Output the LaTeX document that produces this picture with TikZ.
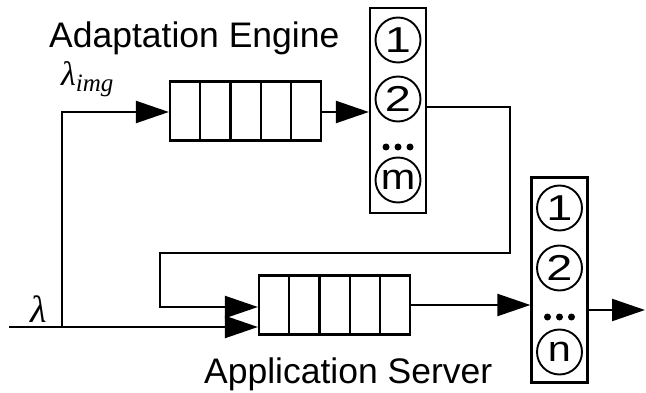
\documentclass[tikz,border=0pt]{standalone}
\usepackage{fontspec}
\setmainfont{Liberation Sans}
\newfontfamily\lamfont{Liberation Serif}
\usetikzlibrary{arrows.meta}

\tikzset{
  wire/.style={line width=2pt},
  flow/.style={line width=2.2pt, -{Triangle[length=33pt,width=22pt]}},
  queue/.style={draw, line width=2.2pt, minimum width=151pt, minimum height=59pt,
    inner sep=0pt,
    path picture={\foreach \k in {1,...,4}
      \draw[line width=2.2pt]
        ([xshift=\k*30.2pt]path picture bounding box.south west) --
        ([xshift=\k*30.2pt]path picture bounding box.north west);}},
  serverbox/.style={draw, line width=2.2pt, minimum width=56pt, minimum height=205pt,
    inner sep=0pt},
  srv/.style={draw, circle, line width=1.9pt, minimum size=45pt, inner sep=0pt,
    font=\fontsize{36}{36}\selectfont},
  dot/.style={fill, circle, minimum size=7pt, inner sep=0pt},
  title/.style={anchor=base west, inner sep=0pt, font=\fontsize{35.5}{35.5}\selectfont},
  rate/.style={anchor=base west, inner sep=0pt}
}

\begin{document}
\begin{tikzpicture}[x=1pt, y=-1pt]
  \useasboundingbox (0,0) rectangle (646,393);

  % labels
  \node[title] (aetitle) at (49,48) {Adaptation Engine};
  \node[title] (astitle) at (204,383) {Application Server};
  \node[rate] (limg) at (61,86) {\lamfont\itshape\fontsize{34}{34}\selectfont λ\raisebox{-6pt}{\fontsize{25}{25}\selectfont img}};
  \node[rate] (lin) at (30,323) {\lamfont\itshape\fontsize{38}{38}\selectfont λ};

  % queues
  \node[queue] (tq) at (245.5,111) {};
  \node[queue] (bq) at (334.5,305) {};

  % adaptation engine servers
  \node[serverbox] (tb) at (398,110.5) {};
  \node[srv] (t1) at (398,40) {\scalebox{1.3}[1]{1}};
  \node[srv] (t2) at (398,99) {\scalebox{1.3}[1]{2}};
  \node[dot] (td1) at (386,147) {};
  \node[dot] (td2) at (398,147) {};
  \node[dot] (td3) at (410,147) {};
  \node[srv] (tm) at (398,180) {\scalebox{1.15}[1]{m}};

  % application servers
  \node[serverbox] (bb) at (559.5,280) {};
  \node[srv] (b1) at (559.5,208) {\scalebox{1.3}[1]{1}};
  \node[srv] (b2) at (559.5,268) {\scalebox{1.3}[1]{2}};
  \node[dot] (bd1) at (547.5,317) {};
  \node[dot] (bd2) at (559.5,317) {};
  \node[dot] (bd3) at (571.5,317) {};
  \node[srv] (bn) at (559.5,352) {\scalebox{1.15}[1]{n}};

  % connector points
  \coordinate (src) at (9,327);
  \coordinate (split) at (62,327);
  \coordinate (out) at (645,310);

  % arrivals
  \draw[flow] (src) -- (split) -- (bq.west |- 0,327);
  \draw[flow] (split) -- (62,112) -- (tq.west |- 0,112);

  % adaptation engine path
  \draw[flow] (tq.east |- 0,112) -- (tb.west |- 0,112);
  \draw[flow] (tb.east |- 0,107) -- (510,107) -- (510,253) -- (160,253)
    -- (160,307) -- (bq.west |- 0,307);

  % application server path
  \draw[flow] (bq.east) -- (bb.west |- bq.east);
  \draw[flow] (bb.east |- out) -- (out);
\end{tikzpicture}
\end{document}
